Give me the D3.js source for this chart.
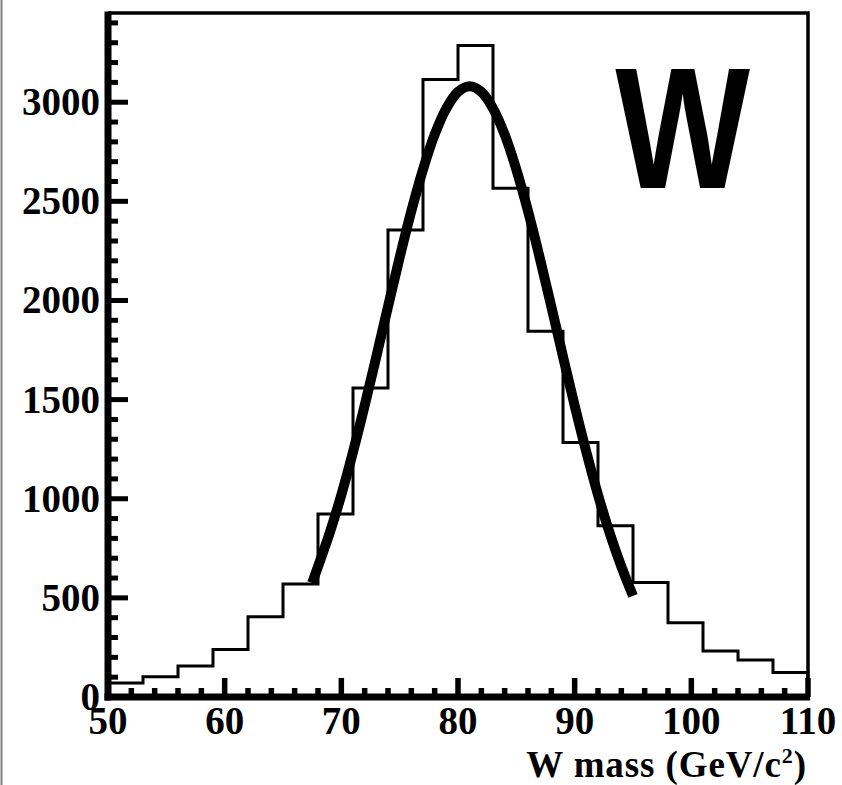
<!DOCTYPE html>
<html>
<head>
<meta charset="utf-8">
<script src="https://cdn.jsdelivr.net/npm/d3@7"></script>
<style>
  html, body { margin: 0; padding: 0; background: #fff; }
  svg { display: block; }
</style>
</head>
<body>
<script>
// ---- Data ----
const binLow   = [50, 53, 56, 59, 62, 65, 68, 71, 74, 77, 80, 83, 86, 89, 92, 95, 98, 101, 104, 107];
const binWidth = 3;
const counts   = [70, 102, 156, 240, 405, 570, 923, 1558, 2355, 3114, 3286, 2566, 1845, 1284, 864, 578, 375, 232, 187, 123];

// Fit curve, sampled along the drawn curve
const fitX = [67.5, 68, 69, 70, 71, 72, 73, 74, 75, 76, 77, 78, 79, 80, 81, 82, 83, 84, 85, 86, 87, 88, 89, 90, 91, 92, 93, 94, 95];
const fitY = [575, 658, 827, 1020, 1236, 1470, 1717, 1969, 2217, 2451, 2661, 2837, 2969, 3052, 3080, 3052, 2969, 2837, 2661, 2451, 2217, 1969, 1717, 1470, 1236, 1020, 827, 658, 510];

const xTickLabels = [50, 60, 70, 80, 90, 100, 110];
const yTickLabels = [0, 500, 1000, 1500, 2000, 2500, 3000];
const xTitle = "W mass (GeV/c";
const xTitleSup = "2";
const plotLabel = "W";

// ---- Layout ----
const W = 842, H = 785;
const mLeft = 108, mRight = 808, mTop = 13, mBottom = 697;

const svg = d3.select("body").append("svg").attr("width", W).attr("height", H);
svg.append("rect").attr("width", W).attr("height", H).attr("fill", "#fff");

// gray page edge line on the left
svg.append("line").attr("x1", 1.5).attr("x2", 1.5).attr("y1", 0).attr("y2", H)
  .attr("stroke", "#7f7f7f").attr("stroke-width", 2);

const x = d3.scaleLinear().domain([50, 110]).range([mLeft, mRight]);
const y = d3.scaleLinear().domain([0, 3450]).range([mBottom, mTop]);

const serif = "'Liberation Serif', 'Times New Roman', serif";

// frame (top and right thin)
svg.append("path")
  .attr("d", `M${mLeft},${mTop}H${mRight}V${mBottom}`)
  .attr("fill", "none").attr("stroke", "#000").attr("stroke-width", 3.5);

// histogram
const hist = d3.path();
hist.moveTo(x(binLow[0]), y(0));
binLow.forEach((b, i) => {
  hist.lineTo(x(b), y(counts[i]));
  hist.lineTo(x(b + binWidth), y(counts[i]));
});
hist.lineTo(x(binLow[binLow.length - 1] + binWidth), y(0));
svg.append("path").attr("d", hist.toString())
  .attr("fill", "none").attr("stroke", "#000").attr("stroke-width", 3);

// fit curve
const line = d3.line().x((d, i) => x(fitX[i])).y(d => y(d)).curve(d3.curveCatmullRom);
svg.append("path").attr("d", line(fitY))
  .attr("fill", "none").attr("stroke", "#000").attr("stroke-width", 10)
  .attr("stroke-linecap", "butt").attr("stroke-linejoin", "round");

// Y axis ticks (minor every 100, major every 500)
const yMinor = d3.range(0, 3401, 100);
svg.append("g").selectAll("line").data(yMinor).join("line")
  .attr("x1", mLeft).attr("x2", d => d % 500 === 0 ? mLeft + 20 : mLeft + 10)
  .attr("y1", d => y(d)).attr("y2", d => y(d))
  .attr("stroke", "#000").attr("stroke-width", 5);

// X axis ticks (minor every 2, major every 10)
const xMinor = d3.range(50, 110.1, 2);
svg.append("g").selectAll("line").data(xMinor).join("line")
  .attr("x1", d => x(d)).attr("x2", d => x(d))
  .attr("y1", mBottom).attr("y2", d => d % 10 === 0 ? mBottom - 19 : mBottom - 9)
  .attr("stroke", "#000").attr("stroke-width", 5.5);

// thick axis lines
svg.append("line").attr("x1", mLeft).attr("x2", mLeft).attr("y1", mTop - 1.5).attr("y2", mBottom + 3.5)
  .attr("stroke", "#000").attr("stroke-width", 7);
svg.append("line").attr("x1", mLeft - 3.5).attr("x2", mRight + 2).attr("y1", mBottom).attr("y2", mBottom)
  .attr("stroke", "#000").attr("stroke-width", 7);

// Y tick labels
svg.append("g").selectAll("text").data(yTickLabels).join("text")
  .attr("x", 100).attr("y", d => y(d) + 13)
  .attr("text-anchor", "end")
  .attr("font-family", serif).attr("font-weight", "bold").attr("font-size", 39)
  .text(d => d);

// X tick labels
svg.append("g").selectAll("text").data(xTickLabels).join("text")
  .attr("x", d => x(d)).attr("y", 734)
  .attr("text-anchor", "middle")
  .attr("font-family", serif).attr("font-weight", "bold").attr("font-size", 39)
  .text(d => d);

// X title
const t = svg.append("text").attr("x", 807).attr("y", 777)
  .attr("text-anchor", "end")
  .attr("letter-spacing", 0.9)
  .attr("font-family", serif).attr("font-weight", "bold").attr("font-size", 37);
t.append("tspan").text(xTitle);
t.append("tspan").attr("font-size", 22).attr("dy", -14).text(xTitleSup);
t.append("tspan").attr("dy", 14).text(")");

// Big W label
svg.append("g").attr("transform", "translate(682.5,188) scale(0.83,1)")
  .append("text").attr("text-anchor", "middle")
  .attr("font-family", "'Liberation Sans', Arial, Helvetica, sans-serif")
  .attr("font-weight", "bold").attr("font-size", 172)
  .text(plotLabel);
</script>
</body>
</html>
